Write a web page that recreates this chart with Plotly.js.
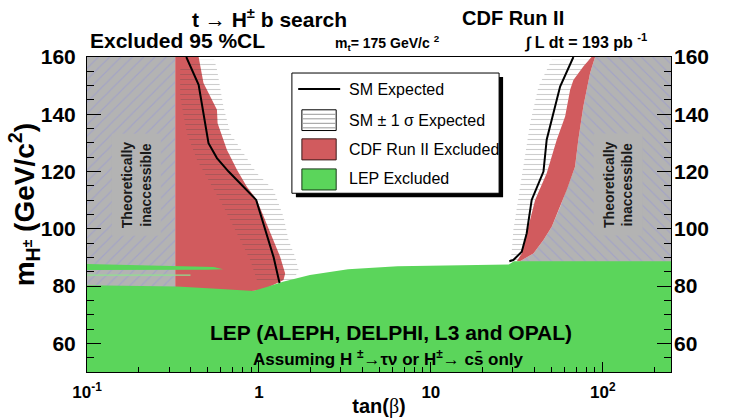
<!DOCTYPE html>
<html>
<head>
<meta charset="utf-8">
<script src="https://cdn.plot.ly/plotly-3.0.1.min.js"></script>
<style>html,body{margin:0;padding:0;background:#fff;}#chart{width:742px;height:418px;}</style>
</head>
<body>
<div id="chart"></div>
<script>
// ---------------- data (tan(beta), m_H+ in GeV/c^2) ----------------
const inaccLeftX  = [0.1, 0.326, 0.326, 0.1];
const inaccLeftY  = [160, 160, 50, 50];
const inaccRightX = [90.2, 84.4, 77.1, 72.1, 69.0, 61.8, 56.5, 50.5, 45.2, 39.5, 33.0, 33.0, 260, 260];
const inaccRightY = [160, 154.4, 142.7, 131.1, 121.7, 113.6, 107.7, 100.7, 96.1, 91.4, 88.7, 80, 80, 160];

const cdfLeftX  = [0.326, 0.446, 0.476, 0.570, 0.575, 0.651, 0.745, 0.851, 0.973, 1.088, 1.216, 1.330, 1.421, 1.390, 1.04, 0.326];
const cdfLeftY  = [160, 160, 150.9, 141.6, 136.9, 127.6, 120.6, 114.7, 110.1, 103.1, 96.1, 90.2, 84.4, 82.1, 78.5, 77];
const cdfRightX = [86.0, 77.1, 67.5, 64.6, 60.4, 54.0, 47.2, 40.4, 36.1, 33.8, 31.6, 33.0, 39.5, 45.2, 50.5, 56.5, 61.8, 69.0, 72.1, 77.1, 84.4, 90.2];
const cdfRightY = [160, 156.7, 152, 148.6, 139.2, 131.1, 119.4, 110.1, 98.4, 91.4, 88.7, 88.7, 91.4, 96.1, 100.7, 107.7, 113.6, 121.7, 131.1, 142.7, 154.4, 160];

const bandLeftX  = [0.43, 0.348, 0.348, 0.381, 0.436, 0.521, 0.622, 0.745, 0.890, 0.973, 1.59, 1.70, 1.625, 1.486, 1.390, 1.216, 0.973, 0.814, 0.681, 0.622, 0.570, 0.55];
const bandLeftY  = [159, 155.6, 146.2, 133.4, 124.1, 115.9, 107.7, 98.4, 89.1, 82.1, 82.1, 85.6, 90.2, 96.1, 104.2, 113.6, 119.4, 126.4, 133.4, 142.7, 155.6, 159];
const bandRightX = [50.5, 42.3, 37.8, 35.3, 32.3, 30.2, 29.5, 28.9, 31.6, 33.8, 36.1, 40.4, 47.2, 54.0, 60.4, 64.6, 67.5, 77.1, 84.4];
const bandRightY = [159, 149.7, 136.9, 125.2, 111.2, 99.6, 91.4, 89.1, 88.7, 91.4, 98.4, 110.1, 119.4, 131.1, 139.2, 148.6, 152, 156.7, 159];

const smLeftX  = [0.378, 0.446, 0.509, 0.57, 0.666, 0.964, 1.216, 1.318];
const smLeftY  = [160, 150.3, 129.9, 124.7, 120, 110.1, 90.2, 81.1];
const smRightX = [67.5, 56.5, 47.2, 45.2, 38.6, 36.1, 33.8, 30.2, 28.6];
const smRightY = [160, 149.7, 131.1, 120, 110.1, 98.4, 92, 89.1, 88.7];

const lepX = [0.1, 0.334, 0.6, 0.93, 1.11, 1.38, 1.98, 3.30, 6.4, 15.3, 28.4, 30.5, 260, 260, 0.1];
const lepY = [80.3, 79.9, 79.0, 78.3, 79.7, 81.5, 83.9, 85.9, 86.9, 87.2, 87.5, 88.7, 88.7, 45, 45];
const lepStripeX = [0.1, 0.545, 0.62, 0.5, 0.1];
const lepStripeY = [87.7, 86.7, 85.9, 85.7, 85.6];
const lepLineX = [0.1, 0.40];
const lepLineY = [83.8, 83.8];

const xTickVals = [0.1, 1, 10, 100];
const xTickText = ['10<sup>-1</sup>', '1', '10', '10<sup>2</sup>'];
const xMinorVals = [0.2,0.3,0.4,0.5,0.6,0.7,0.8,0.9,2,3,4,5,6,7,8,9,20,30,40,50,60,70,80,90,200];
const yTickVals = [60, 80, 100, 120, 140, 160];

// ---------------- styles ----------------
const FONT = 'Liberation Sans, Arial, Helvetica, sans-serif';
const RED = '#d15b5e', GREEN = '#5bd55b', GRAY = '#b3b3b3';

function poly(x, y, fill, pattern) {
  const t = {x, y, type: 'scatter', mode: 'lines', fill: 'toself', fillcolor: fill,
    line: {width: 0, color: fill}, hoverinfo: 'skip', showlegend: false};
  if (pattern) t.fillpattern = pattern;
  return t;
}
const grayPatL = {shape: '/', size: 8, solidity: 0.15, fgcolor: '#9696d6', bgcolor: GRAY, fillmode: 'overlay'};
const grayPatR = {shape: '\\', size: 8, solidity: 0.15, fgcolor: '#9696d6', bgcolor: GRAY, fillmode: 'overlay'};
const bandPat = {shape: '-', size: 5, solidity: 0.22, fgcolor: 'rgba(70,70,70,0.55)', bgcolor: 'rgba(0,0,0,0)', fillmode: 'overlay'};

const traces = [
  poly(inaccLeftX, inaccLeftY, GRAY, grayPatL),
  poly(inaccRightX, inaccRightY, GRAY, grayPatR),
  poly(cdfLeftX, cdfLeftY, RED),
  poly(cdfRightX, cdfRightY, RED),
  poly(bandLeftX, bandLeftY, 'rgba(0,0,0,0)', bandPat),
  poly(bandRightX, bandRightY, 'rgba(0,0,0,0)', bandPat),
  poly(lepX, lepY, GREEN),
  poly(lepStripeX, lepStripeY, GREEN),
  {x: lepLineX, y: lepLineY, type: 'scatter', mode: 'lines', line: {color: '#8fe08f', width: 1.2}, hoverinfo: 'skip', showlegend: false},
  {x: smLeftX, y: smLeftY, type: 'scatter', mode: 'lines', line: {color: 'black', width: 2}, hoverinfo: 'skip', showlegend: false},
  {x: smRightX, y: smRightY, type: 'scatter', mode: 'lines', line: {color: 'black', width: 2}, hoverinfo: 'skip', showlegend: false},
  {x: [1], y: [100], yaxis: 'y2', type: 'scatter', mode: 'markers', marker: {opacity: 0}, hoverinfo: 'skip', showlegend: false}
];

// plot-area pixel helpers (for decorations only)
const PX0 = 86.7, PW = 584.3, PY1 = 371.7, PH = 314.4;
const fx = p => (p - PX0) / PW;
const fy = p => (PY1 - p) / PH;

function ann(text, x, y, size, opts) {
  return Object.assign({text, x: fx(x), y: fy(y), xref: 'paper', yref: 'paper', showarrow: false,
    xanchor: 'left', yanchor: 'middle', font: {family: FONT, size, color: 'black', weight: 'bold'}}, opts || {});
}

const annotations = [
  ann('t → H<sup>±</sup> b search', 190, 18, 21),
  ann('CDF Run II', 460, 18, 20),
  ann('Excluded 95 %CL', 88, 41, 21),
  ann('m<sub>t</sub>= 175 GeV/c <sup>2</sup>', 333, 43, 14),
  ann('∫ L dt = 193 pb <sup>-1</sup>', 522, 42, 16),
  ann('m<sub>H<sup>±</sup></sub> (GeV/c<sup>2</sup>)', 24, 205, 28, {xanchor: 'center', textangle: -90}),
  ann('Theoretically<br>inaccessible', 136, 185, 14, {xanchor: 'center', textangle: -90, bgcolor: GRAY, borderpad: 7, font: {family: FONT, size: 14, color: '#1a1a1a', weight: 'bold'}}),
  ann('Theoretically<br>inaccessible', 618, 185, 14, {xanchor: 'center', textangle: -90, bgcolor: GRAY, borderpad: 7, font: {family: FONT, size: 14, color: '#1a1a1a', weight: 'bold'}}),
  ann('LEP (ALEPH, DELPHI, L3 and OPAL)', 391, 332, 21, {xanchor: 'center'}),
  ann('Assuming H <sup>±</sup>→τν or H<sup>±</sup>→ cs̄ only', 388, 358, 17, {xanchor: 'center'}),
  ann('SM Expected', 346.7, 89.3, 16, {font: {family: FONT, size: 16, color: 'black'}}),
  ann('SM ± 1 σ Expected', 346.7, 120.5, 16, {font: {family: FONT, size: 16, color: 'black'}}),
  ann('CDF Run II Excluded', 346.7, 149.5, 16, {font: {family: FONT, size: 16, color: 'black'}}),
  ann('LEP Excluded', 346.7, 178.5, 16, {font: {family: FONT, size: 16, color: 'black'}})
];

function rect(x0, y0, x1, y1, fill, lineColor, lw) {
  return {type: 'rect', xref: 'paper', yref: 'paper', x0: fx(x0), x1: fx(x1), y0: fy(y0), y1: fy(y1),
    fillcolor: fill, line: {color: lineColor || fill, width: lw === undefined ? 1 : lw}, layer: 'above'};
}
function hline(x0, x1, y, color, w) {
  return {type: 'line', xref: 'paper', yref: 'paper', x0: fx(x0), x1: fx(x1), y0: fy(y), y1: fy(y),
    line: {color, width: w}, layer: 'above'};
}
const shapes = [
  rect(295.7, 77.3, 503, 197.3, 'black', 'black', 0),
  rect(291.7, 73.3, 499, 193.3, 'white', 'black', 1),
  hline(298, 340, 89.3, 'black', 2),
  rect(301.7, 110, 336, 130.7, 'white', 'black', 1),
  hline(302.5, 335.5, 114.5, '#999', 1),
  hline(302.5, 335.5, 119, '#999', 1),
  hline(302.5, 335.5, 123.5, '#999', 1),
  hline(302.5, 335.5, 128, '#999', 1),
  rect(301.7, 139, 336, 160, RED, '#3a1a1a', 1),
  rect(301.7, 169, 336, 190, GREEN, '#1a3a1a', 1)
];

const tickFontY = {family: FONT, size: 21, color: 'black', weight: 'bold'};
const yCommon = {
  range: [50, 160], tickmode: 'array', tickvals: yTickVals, ticks: 'inside', ticklen: 14, tickwidth: 1,
  tickcolor: 'black', showgrid: false, zeroline: false, tickfont: tickFontY,
  minor: {dtick: 5, tick0: 50, ticks: 'inside', ticklen: 7, tickwidth: 1, tickcolor: 'black', showgrid: false}
};

const layout = {
  width: 742, height: 418,
  margin: {l: 87, r: 71, t: 57, b: 46, pad: 0},
  paper_bgcolor: 'white', plot_bgcolor: 'white',
  showlegend: false,
  font: {family: FONT, color: 'black'},
  xaxis: {
    type: 'log', range: [-1, 2.397], tickmode: 'array', tickvals: xTickVals, ticktext: xTickText,
    ticks: 'inside', ticklen: 10, tickwidth: 1, tickcolor: 'black',
    showline: true, mirror: true, linecolor: 'black', linewidth: 1,
    showgrid: false, zeroline: false, ticklabelstandoff: 5,
    tickfont: {family: FONT, size: 17, color: 'black', weight: 'bold'},
    minor: {tickmode: 'array', tickvals: xMinorVals, ticks: 'inside', ticklen: 5, tickwidth: 1, tickcolor: 'black', showgrid: false},
    title: {text: 'tan(<span style="font-family:Liberation Serif;font-weight:normal">β</span>)', standoff: 6,
      font: {family: FONT, size: 20, color: 'black', weight: 'bold'}}
  },
  yaxis: Object.assign({}, yCommon, {
    showline: true, mirror: true, linecolor: 'black', linewidth: 1, ticklabelstandoff: 6
  }),
  yaxis2: Object.assign({}, yCommon, {overlaying: 'y', side: 'right', anchor: 'x', showline: false, ticklabelstandoff: 2}),
  annotations, shapes
};

Plotly.newPlot('chart', traces, layout, {staticPlot: true, displayModeBar: false});
</script>
</body>
</html>
